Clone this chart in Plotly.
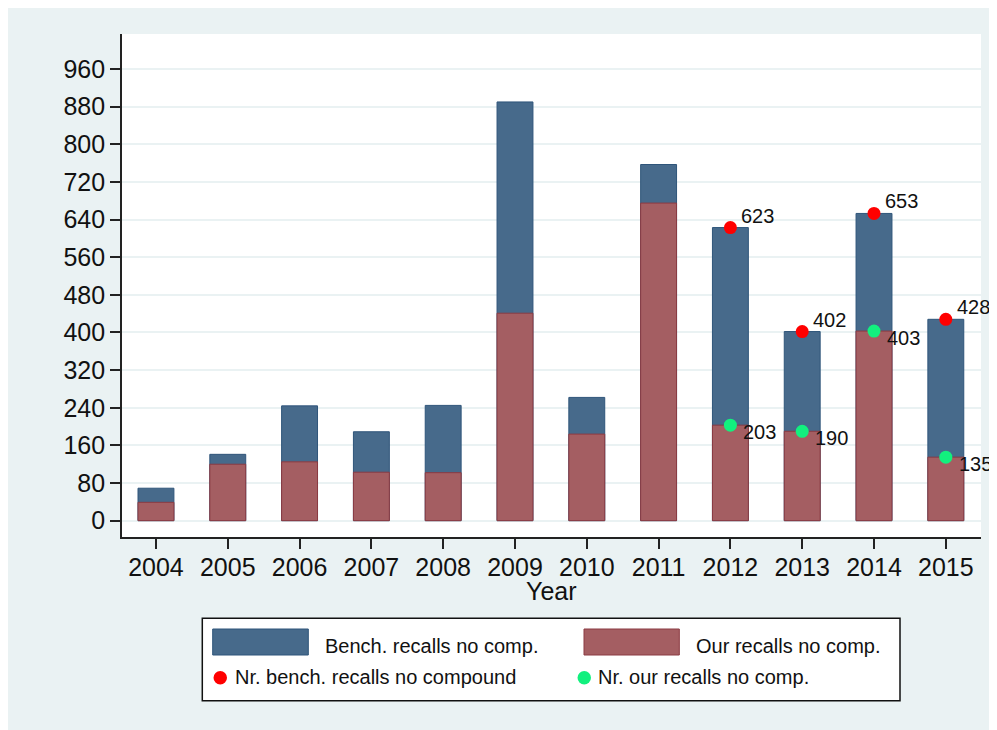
import plotly.graph_objects as go

# ---- data ----
years = [2004, 2005, 2006, 2007, 2008, 2009, 2010, 2011, 2012, 2013, 2014, 2015]
bench_recalls = [69, 141, 244, 189, 245, 890, 262, 757, 623, 402, 653, 428]
our_recalls = [39, 120, 125, 103, 102, 441, 184, 675, 203, 190, 403, 135]
dot_years = [2012, 2013, 2014, 2015]
nr_bench = [623, 402, 653, 428]
nr_ours = [203, 190, 403, 135]
y_ticks = list(range(0, 961, 80))
x_title = "Year"

series_names = ["Bench. recalls no comp.", "Our recalls no comp.",
                "Nr. bench. recalls no compound", "Nr. our recalls no comp."]

# ---- style ----
W, H = 989, 722
OFF = 8  # page body margin
L, R, T, B = 114, 16, 26, 193
BG = "#EAF2F3"
BLUE, BLUE_LINE = "#476A8B", "#2F557A"
RED, RED_LINE = "#A45E62", "#8B3A42"
DOT_RED, DOT_GREEN = "#FF0000", "#12F07E"
FONT = "Liberation Sans, Arial, sans-serif"
AX = "#222222"
TXT = "#111111"


def px(X):
    return (X - OFF - L) / (W - L - R)


def py(Y):
    return (H - B - (Y - OFF)) / (H - T - B)


fig = go.Figure()
fig.add_trace(go.Bar(x=years, y=bench_recalls, width=0.5, name=series_names[0],
                     marker=dict(color=BLUE, line=dict(color=BLUE_LINE, width=1)),
                     showlegend=False))
fig.add_trace(go.Bar(x=years, y=our_recalls, width=0.5, name=series_names[1],
                     marker=dict(color=RED, line=dict(color=RED_LINE, width=1)),
                     showlegend=False))
fig.add_trace(go.Scatter(x=dot_years, y=nr_bench, mode="markers", name=series_names[2],
                         marker=dict(color=DOT_RED, size=13), cliponaxis=False,
                         showlegend=False))
fig.add_trace(go.Scatter(x=dot_years, y=nr_ours, mode="markers", name=series_names[3],
                         marker=dict(color=DOT_GREEN, size=13), cliponaxis=False,
                         showlegend=False))

annotations = []
for xv, yv in zip(dot_years, nr_bench):
    annotations.append(dict(x=xv, y=yv, xref="x", yref="y", text=str(yv), showarrow=False,
                            xanchor="left", yanchor="middle", xshift=9, yshift=12,
                            font=dict(size=20, color=TXT, family=FONT)))
for xv, yv in zip(dot_years, nr_ours):
    annotations.append(dict(x=xv, y=yv, xref="x", yref="y", text=str(yv), showarrow=False,
                            xanchor="left", yanchor="middle", xshift=11, yshift=-7,
                            font=dict(size=20, color=TXT, family=FONT)))

# x-axis title
annotations.append(dict(x=0.5, y=py(591), xref="paper", yref="paper", text=x_title, showarrow=False,
                        xanchor="center", yanchor="middle", font=dict(size=25, color=TXT, family=FONT)))

shapes = []
# legend box
shapes.append(dict(type="rect", xref="paper", yref="paper", x0=px(202.3), x1=px(900),
                   y0=py(700.7), y1=py(618.3), fillcolor="white", line=dict(color=TXT, width=1.5)))
# swatches
shapes.append(dict(type="rect", xref="paper", yref="paper", x0=px(212.7), x1=px(308.3),
                   y0=py(655), y1=py(629), fillcolor=BLUE, line=dict(color=BLUE_LINE, width=1)))
shapes.append(dict(type="rect", xref="paper", yref="paper", x0=px(584), x1=px(679.3),
                   y0=py(655), y1=py(629), fillcolor=RED, line=dict(color=RED_LINE, width=1)))
shapes.append(dict(type="circle", xref="paper", yref="paper", x0=px(213.5), x1=px(227),
                   y0=py(684.5), y1=py(671), fillcolor=DOT_RED, line=dict(width=0)))
shapes.append(dict(type="circle", xref="paper", yref="paper", x0=px(577.5), x1=px(591),
                   y0=py(684.5), y1=py(671), fillcolor=DOT_GREEN, line=dict(width=0)))

leg_text = [(323.3, 646, series_names[0]), (694, 646, series_names[1]),
            (233, 677, series_names[2]), (596, 677, series_names[3])]
for X, Y, t in leg_text:
    annotations.append(dict(x=px(X), y=py(Y), xref="paper", yref="paper", text=t, showarrow=False,
                            xanchor="left", yanchor="middle", font=dict(size=20, color=TXT, family=FONT)))

fig.update_layout(
    width=W, height=H,
    margin=dict(l=L, r=R, t=T, b=B, pad=0),
    paper_bgcolor=BG, plot_bgcolor="white",
    barmode="overlay",
    font=dict(family=FONT, color=TXT),
    shapes=shapes, annotations=annotations,
    xaxis=dict(range=[2003.527, 2015.49], tickmode="array", tickvals=years,
               ticktext=[str(y) for y in years], ticks="outside", ticklen=10, tickwidth=1.5,
               tickcolor=AX, showgrid=False, zeroline=False, showline=True, linecolor=AX,
               linewidth=1.7, tickfont=dict(size=25, color=TXT), ticklabelstandoff=-3),
    yaxis=dict(range=[-34.7, 1034.4], tickmode="array", tickvals=y_ticks, ticks="outside",
               ticklen=10, tickwidth=1.5, tickcolor=AX, showgrid=True, gridcolor=BG, gridwidth=1.5,
               zeroline=False, showline=True, linecolor=AX, linewidth=1.7,
               tickfont=dict(size=25, color=TXT)),
    showlegend=False,
)

fig.write_html("out.html")
